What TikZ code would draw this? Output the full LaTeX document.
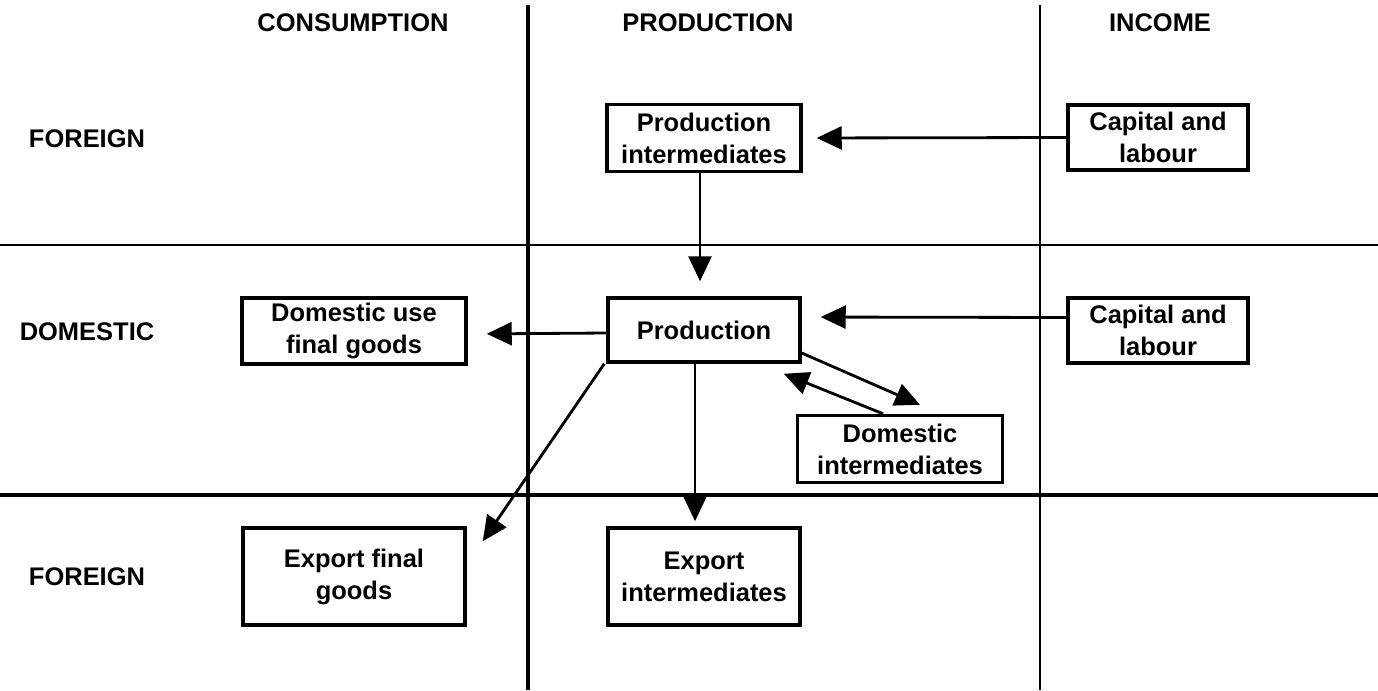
\documentclass[tikz,border=0pt]{standalone}
\usepackage{fontspec}
\setmainfont{Liberation Sans}
\usepackage{tikz}
\usetikzlibrary{arrows.meta,positioning}

\begin{document}
\begin{tikzpicture}[
  x=0.02cm, y=-0.02cm,
  >={Triangle[length=0.5cm,width=0.46cm]},
  font=\fontsize{14.5}{18.2}\selectfont\bfseries,
  box/.style={rectangle,draw=black,line width=2pt,fill=white,align=center,inner sep=0pt},
  smallbox/.style={box,minimum width=3.84cm,minimum height=1.3cm},
  tallbox/.style={box,minimum height=1.94cm},
  head/.style={inner sep=0pt},
  flow/.style={->,line width=1.6pt}
]
\useasboundingbox (0,0) rectangle (1378,690);
% Grid
\draw[line width=1.8pt] (528,5) -- (528,690);
\draw[line width=1.3pt] (1040,5) -- (1040,690);
\draw[line width=0.75pt] (0,245) -- (1378,245);
\draw[line width=2pt] (0,495) -- (1378,495);
% column and row headings
\node[head] (hcons) at (353,23) {CONSUMPTION};
\node[head] (hprod) at (708,23) {PRODUCTION};
\node[head] (hinc) at (1160,23) {INCOME};
\node[head] (rfor1) at (87,138.5) {FOREIGN};
\node[head] (rdom) at (87,332) {DOMESTIC};
\node[head] (rfor2) at (87,577) {FOREIGN};
% boxes
\node[smallbox,minimum width=3.88cm,minimum height=1.34cm] (pint) at (704,138) {Production\\intermediates};
\node[smallbox,minimum width=3.6cm] (capA) at (1158,137.5) {Capital and\\labour};
\node[smallbox,minimum width=4.48cm,minimum height=1.32cm] (douse) at (354,331) {Domestic use\\final goods};
\node[smallbox,minimum height=1.28cm] (prod) at (704,330) {Production};
\node[smallbox,minimum width=3.6cm] (capB) at (1158,330.5) {Capital and\\labour};
\node[smallbox,minimum width=4.1cm,minimum height=1.34cm] (dint) at (900,449) {Domestic\\intermediates};
\node[tallbox,minimum width=4.44cm] (expf) at (354,576.5) {Export final\\goods};
\node[tallbox,minimum width=3.84cm] (expi) at (704,576.5) {Export\\intermediates};
% flows
\draw[flow,shorten >=0.28cm] (capA.west) -- (pint.east);
\draw[flow,shorten >=0.3cm] ([xshift=-0.08cm]pint.south) -- ([xshift=-0.08cm]prod.north);
\draw[flow,shorten >=0.38cm] ([yshift=0.26cm]capB.west) -- ([yshift=0.26cm]prod.east);
\draw[flow,shorten >=0.38cm] ([yshift=-0.06cm]prod.west) -- ([yshift=-0.06cm]douse.east);
\draw[flow] ([xshift=-0.04cm]prod.south west) -- ([xshift=0.32cm,yshift=-0.3cm]expf.north east);
\draw[flow,shorten >=0.1cm] ([xshift=-0.18cm]prod.south) -- ([xshift=-0.18cm]expi.north);
\draw[flow] ([yshift=-0.46cm]prod.east) -- ([xshift=0.4cm,yshift=0.18cm]dint.north);
\draw[flow] ([xshift=-0.34cm]dint.north) -- ([xshift=-0.36cm,yshift=-0.2cm]prod.south east);
\end{tikzpicture}
\end{document}
